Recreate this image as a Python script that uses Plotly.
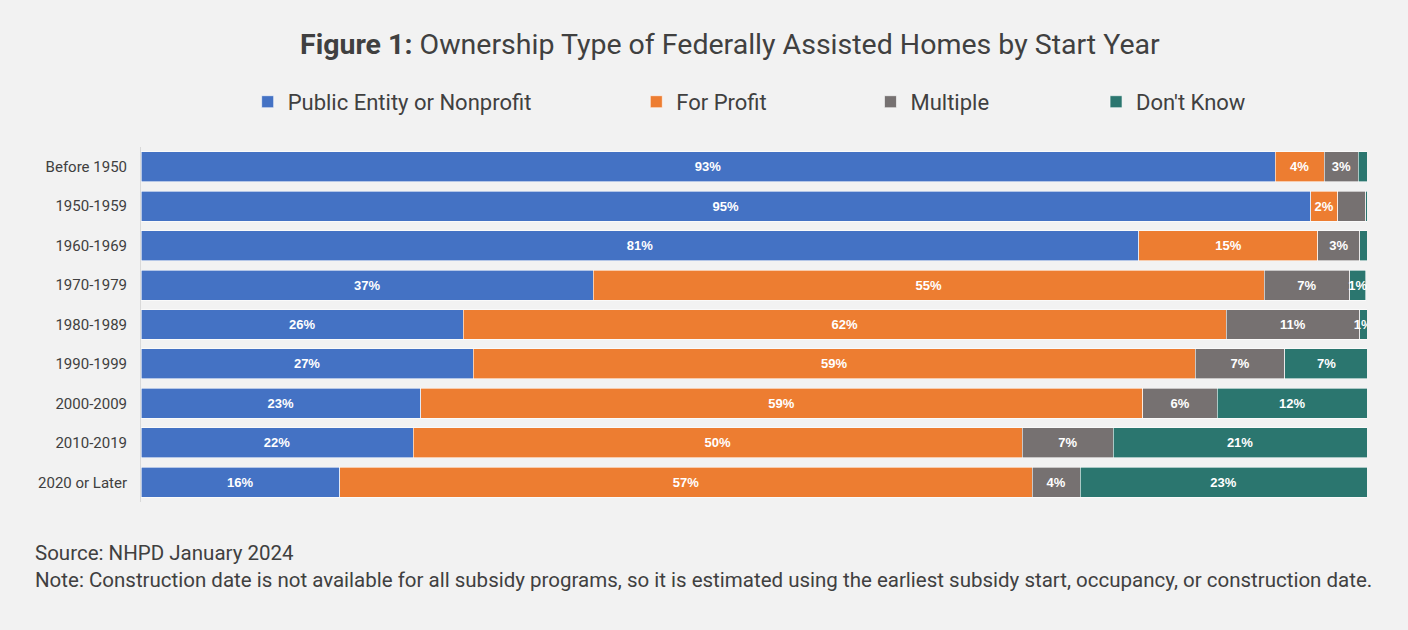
import plotly.graph_objects as go

categories = ["Before 1950", "1950-1959", "1960-1969", "1970-1979", "1980-1989",
              "1990-1999", "2000-2009", "2010-2019", "2020 or Later"]

public_vals = [92.5, 95.4, 81.4, 36.9, 26.3, 27.1, 22.8, 22.2, 16.2]
profit_vals = [4.0, 2.2, 14.6, 54.7, 62.2, 58.9, 58.9, 49.7, 56.5]
multiple_vals = [2.8, 2.3, 3.4, 7.0, 10.9, 7.3, 6.1, 7.4, 3.9]
unknown_vals = [0.7, 0.1, 0.6, 1.3, 0.6, 6.8, 12.2, 20.7, 23.4]

public_labels = ["93%", "95%", "81%", "37%", "26%", "27%", "23%", "22%", "16%"]
profit_labels = ["4%", "2%", "15%", "55%", "62%", "59%", "59%", "50%", "57%"]
multiple_labels = ["3%", "", "3%", "7%", "11%", "7%", "6%", "7%", "4%"]
unknown_labels = ["", "", "", "1%", "1%", "7%", "12%", "21%", "23%"]

series = [
    ("Public Entity or Nonprofit", public_vals, public_labels, "#4472c4", "legend", 0.087),
    ("For Profit", profit_vals, profit_labels, "#ed7d31", "legend2", 0.404),
    ("Multiple", multiple_vals, multiple_labels, "#767171", "legend3", 0.595),
    ("Don't Know", unknown_vals, unknown_labels, "#2b766f", "legend4", 0.779),
]

BG = "#f2f2f2"
TXT = "#404040"
FONT = "Roboto, sans-serif"

fig = go.Figure()
for name, vals, labels, color, leg, _ in series:
    fig.add_trace(go.Bar(
        y=categories, x=vals, name=name, orientation="h",
        marker=dict(color=color, line=dict(color="#ffffff", width=0.6)),
        text=labels, textposition="inside", insidetextanchor="middle",
        textangle=0,
        textfont=dict(color="white", size=13, family="Arial, Liberation Sans, sans-serif"),
        texttemplate="<b>%{text}</b>",
        constraintext="none", showlegend=True,
        legend=leg, hoverinfo="skip",
    ))

layout_legends = {}
for name, vals, labels, color, leg, xpos in series:
    layout_legends[leg] = dict(
        x=xpos, y=1.127, xref="paper", yref="paper", xanchor="left", yanchor="middle",
        orientation="h", bgcolor="rgba(0,0,0,0)",
        font=dict(size=22, color=TXT, family=FONT),
    )

fig.update_layout(
    width=1408, height=630,
    paper_bgcolor=BG, plot_bgcolor=BG,
    barmode="stack", bargap=0.24, showlegend=True,
    margin=dict(l=141, r=41, t=147, b=128),
    uniformtext=dict(minsize=13, mode="show"),
    xaxis=dict(range=[0, 100], visible=False, fixedrange=True),
    yaxis=dict(autorange="reversed", ticks="", ticklabelstandoff=10,
               tickfont=dict(size=15, color=TXT, family=FONT),
               showline=True, linecolor="#d9d9d9", linewidth=1, showgrid=False),
    **layout_legends,
)

fig.add_annotation(
    text="<b>Figure 1:</b> Ownership Type of Federally Assisted Homes by Start Year",
    x=(730 - 141) / 1226, y=1 + (147 - 45) / 355, xref="paper", yref="paper",
    showarrow=False, xanchor="center", yanchor="middle",
    font=dict(size=28.5, color=TXT, family=FONT),
)

fig.add_annotation(
    text="Source: NHPD January 2024<br>Note: Construction date is not available for all subsidy programs, so it is estimated using the earliest subsidy start, occupancy, or construction date.",
    x=(33 - 141) / 1226, y=-(566 - 502) / 355, xref="paper", yref="paper",
    showarrow=False, xanchor="left", yanchor="middle", align="left",
    font=dict(size=20.5, color=TXT, family=FONT),
)

fig.write_html("out.html", config={"displayModeBar": False},
               post_script="document.body.style.margin='0';document.body.style.padding='0';")
